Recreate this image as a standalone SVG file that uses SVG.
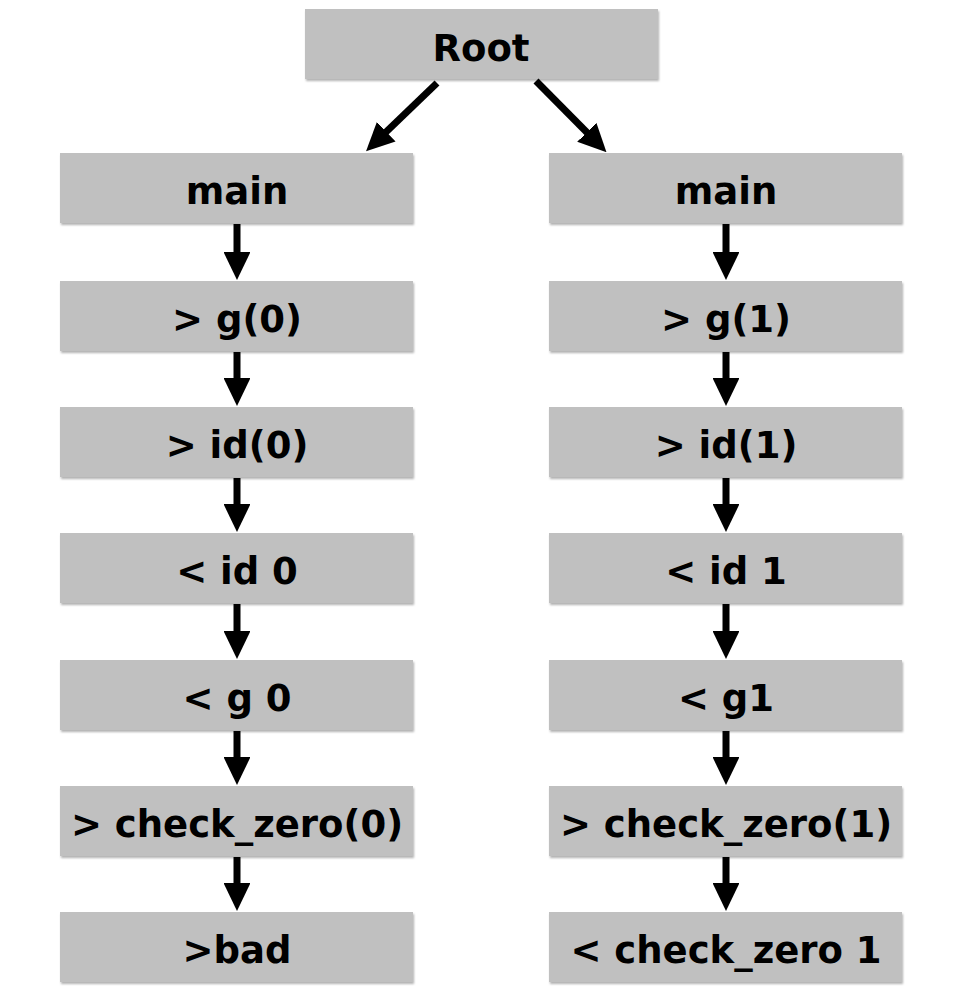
<svg xmlns="http://www.w3.org/2000/svg" width="980" height="994" viewBox="0 0 980 994">
<style>
.box{fill:#c0c0c0;filter:url(#sh)}
.t{font-family:"DejaVu Sans","Liberation Sans",sans-serif;font-weight:bold;font-size:37px;fill:#000;text-anchor:middle}
.c{stroke:#000;stroke-width:7;fill:none}
</style>
<defs>
<filter id="sh" x="-5%" y="-10%" width="110%" height="130%">
<feDropShadow dx="1" dy="2" stdDeviation="1.2" flood-color="#000" flood-opacity="0.3"/>
</filter>
<marker id="ah" viewBox="0 0 28 27" refX="1" refY="13.5" markerWidth="4" markerHeight="3.857" markerUnits="strokeWidth" orient="auto">
<path d="M0,0 L28,13.5 L0,27 z" fill="#000"/>
</marker>
</defs>
<rect width="980" height="994" fill="#fff"/>
<g id="root"><rect class="box" x="305" y="9" width="353" height="70"/><text class="t" x="481" y="61">Root</text></g>
<g id="l1"><rect class="box" x="60" y="153" width="353" height="70"/><text class="t" x="237" y="204">main</text></g>
<g id="l2"><rect class="box" x="60" y="281" width="353" height="70"/><text class="t" x="237" y="332">&gt; g(0)</text></g>
<g id="l3"><rect class="box" x="60" y="407" width="353" height="70"/><text class="t" x="237" y="458">&gt; id(0)</text></g>
<g id="l4"><rect class="box" x="60" y="533" width="353" height="70"/><text class="t" x="237" y="584">&lt; id 0</text></g>
<g id="l5"><rect class="box" x="60" y="660" width="353" height="70"/><text class="t" x="237" y="711">&lt; g 0</text></g>
<g id="l6"><rect class="box" x="60" y="786" width="353" height="70"/><text class="t" x="237" y="837">&gt; check_zero(0)</text></g>
<g id="l7"><rect class="box" x="60" y="912" width="353" height="70"/><text class="t" x="237" y="963">&gt;bad</text></g>
<g id="r1"><rect class="box" x="549" y="153" width="353" height="70"/><text class="t" x="726" y="204">main</text></g>
<g id="r2"><rect class="box" x="549" y="281" width="353" height="70"/><text class="t" x="726" y="332">&gt; g(1)</text></g>
<g id="r3"><rect class="box" x="549" y="407" width="353" height="70"/><text class="t" x="726" y="458">&gt; id(1)</text></g>
<g id="r4"><rect class="box" x="549" y="533" width="353" height="70"/><text class="t" x="726" y="584">&lt; id 1</text></g>
<g id="r5"><rect class="box" x="549" y="660" width="353" height="70"/><text class="t" x="726" y="711">&lt; g1</text></g>
<g id="r6"><rect class="box" x="549" y="786" width="353" height="70"/><text class="t" x="726" y="837">&gt; check_zero(1)</text></g>
<g id="r7"><rect class="box" x="549" y="912" width="353" height="70"/><text class="t" x="726" y="963">&lt; check_zero 1</text></g>
<g id="connectors" class="c" marker-end="url(#ah)">
<line x1="437" y1="83" x2="385.5" y2="132.5"/>
<line x1="536" y1="81" x2="587.5" y2="133"/>
<line x1="237" y1="224" x2="237" y2="253"/>
<line x1="237" y1="352" x2="237" y2="379"/>
<line x1="237" y1="478" x2="237" y2="505"/>
<line x1="237" y1="604" x2="237" y2="632"/>
<line x1="237" y1="731" x2="237" y2="758"/>
<line x1="237" y1="857" x2="237" y2="884"/>
<line x1="726" y1="224" x2="726" y2="253"/>
<line x1="726" y1="352" x2="726" y2="379"/>
<line x1="726" y1="478" x2="726" y2="505"/>
<line x1="726" y1="604" x2="726" y2="632"/>
<line x1="726" y1="731" x2="726" y2="758"/>
<line x1="726" y1="857" x2="726" y2="884"/>
</g>
</svg>
